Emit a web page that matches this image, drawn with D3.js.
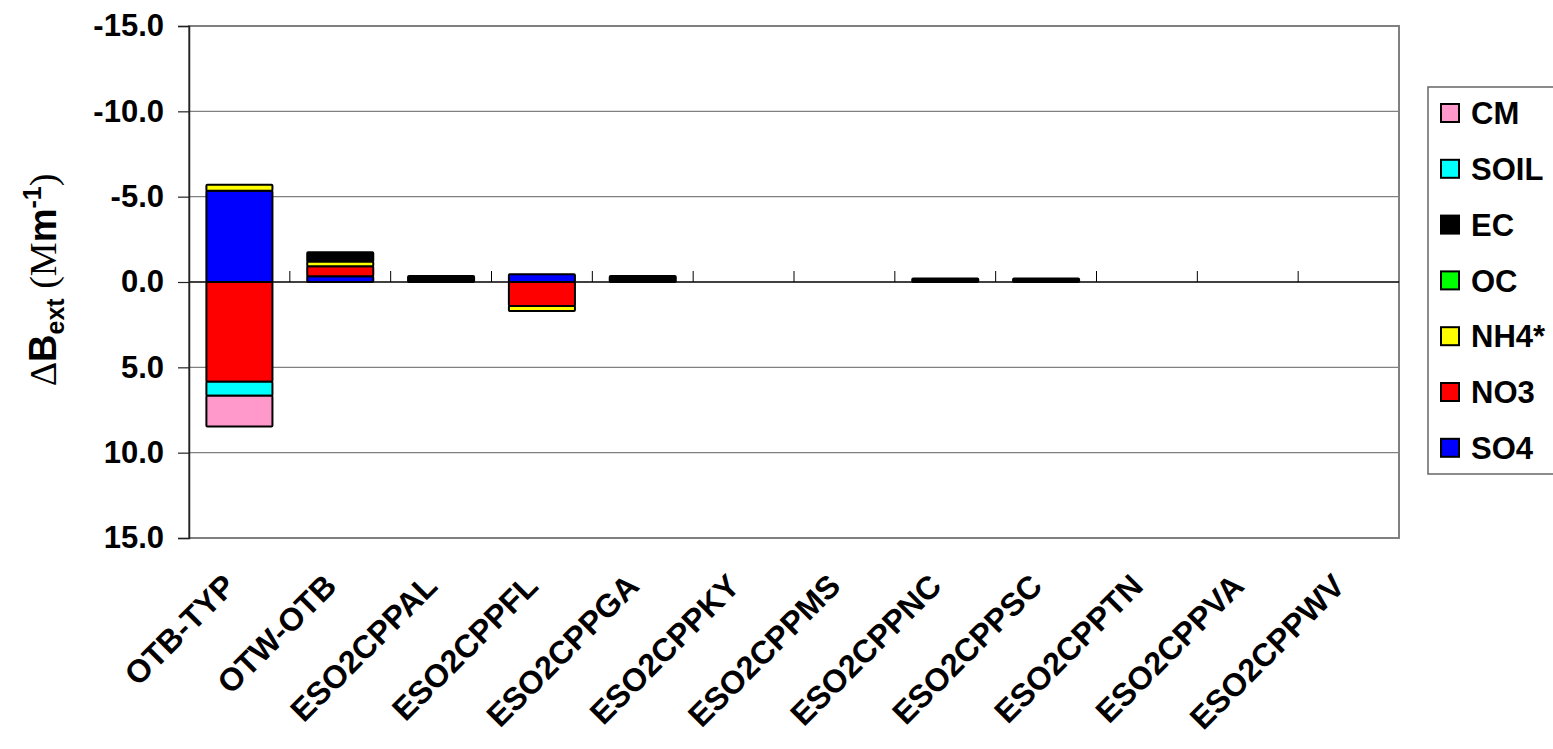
<!DOCTYPE html>
<html><head><meta charset="utf-8">
<script src="https://cdn.jsdelivr.net/npm/d3@7"></script>
<style>body{margin:0;background:#fff;} svg{display:block;}</style>
</head><body>
<svg id="c" width="1553" height="749"></svg>
<script>
const categories = ["OTB-TYP","OTW-OTB","ESO2CPPAL","ESO2CPPFL","ESO2CPPGA","ESO2CPPKY","ESO2CPPMS","ESO2CPPNC","ESO2CPPSC","ESO2CPPTN","ESO2CPPVA","ESO2CPPWV"];
const SO4  = [-5.35, -0.33, 0, -0.45, 0, 0, 0, 0, 0, 0, 0, 0];
const NO3  = [ 5.85, -0.6,  0,  1.4,  0, 0, 0, 0, 0, 0, 0, 0];
const NH4  = [-0.35, -0.27, 0,  0.3,  0, 0, 0, 0, 0, 0, 0, 0];
const OC   = [0, 0, 0, 0, 0, 0, 0, 0, 0, 0, 0, 0];
const EC   = [0, -0.55, -0.35, 0, -0.35, 0, 0, -0.2, -0.2, 0, 0, 0];
const SOIL = [0.82, 0, 0, 0, 0, 0, 0, 0, 0, 0, 0, 0];
const CM   = [1.8, 0, 0, 0, 0, 0, 0, 0, 0, 0, 0, 0];
const seriesNames = ["SO4","NO3","NH4*","OC","EC","SOIL","CM"];
const seriesValues = [SO4, NO3, NH4, OC, EC, SOIL, CM];
const seriesColors = ["#0000FF","#FF0000","#FFFF00","#00FF00","#000000","#00FFFF","#FF99CC"];
const yTicks = [-15, -10, -5, 0, 5, 10, 15];

const svg = d3.select("#c");
const L = 189, R = 1399, T = 26, B = 538;
const x = d3.scaleBand().domain(categories).range([L, R]).paddingInner(0.345).paddingOuter(0.1725);
const xb = d3.scaleBand().domain(categories).range([L, R]);
const y = d3.scaleLinear().domain([-15, 15]).range([T, B]);

const table = categories.map((c, i) => {
  const o = {cat: c};
  seriesNames.forEach((s, k) => o[s] = seriesValues[k][i]);
  return o;
});
const stack = d3.stack().keys(seriesNames).offset(d3.stackOffsetDiverging)(table);

// gridlines
svg.append("g").selectAll("line").data(yTicks.filter(t => t !== 0 && t !== -15 && t !== 15)).join("line")
  .attr("x1", L).attr("x2", R).attr("y1", d => y(d)).attr("y2", d => y(d))
  .attr("stroke", "#808080").attr("stroke-width", 1.2);
// plot border
svg.append("rect").attr("x", L).attr("y", T).attr("width", R - L).attr("height", B - T)
  .attr("fill", "none").attr("stroke", "#808080").attr("stroke-width", 2);

// bars
const gBars = svg.append("g");
stack.forEach((layer, k) => {
  gBars.append("g").selectAll("rect").data(layer.filter(d => d[1] - d[0] !== 0)).join("rect")
    .attr("x", d => x(d.data.cat))
    .attr("width", x.bandwidth())
    .attr("y", d => Math.min(y(d[0]), y(d[1])))
    .attr("height", d => Math.abs(y(d[1]) - y(d[0])))
    .attr("fill", seriesColors[k])
    .attr("stroke", "#000").attr("stroke-width", 2).attr("rx", 1);
});

// zero line with category ticks
svg.append("line").attr("x1", L).attr("x2", R).attr("y1", y(0)).attr("y2", y(0))
  .attr("stroke", "#000").attr("stroke-width", 1.5);
svg.append("g").selectAll("line").data(categories.slice(1)).join("line")
  .attr("x1", d => xb(d)).attr("x2", d => xb(d))
  .attr("y1", y(0)).attr("y2", y(0) - 11)
  .attr("stroke", "#000").attr("stroke-width", 1);

// y axis
const yAxis = d3.axisLeft(y).tickValues(yTicks).tickSize(11).tickPadding(14).tickFormat(d => d.toFixed(1));
const ga = svg.append("g").attr("transform", `translate(${L},0)`).call(yAxis);
ga.select(".domain").attr("stroke", "#222").attr("stroke-width", 1.5);
ga.selectAll(".tick line").attr("stroke", "#222").attr("stroke-width", 1.2);
ga.selectAll(".tick text").attr("font-family", "Arial, 'Liberation Sans', sans-serif")
  .attr("font-weight", "bold").attr("font-size", 31).attr("fill", "#000");

// x labels
const xAxis = d3.axisBottom(xb).tickSize(0).tickPadding(0);
const gx = svg.append("g").attr("transform", `translate(0,${B})`).call(xAxis);
gx.select(".domain").remove();
gx.selectAll(".tick text")
  .attr("font-family", "Arial, 'Liberation Sans', sans-serif")
  .attr("font-weight", "bold").attr("font-size", 32).attr("fill", "#000")
  .attr("text-anchor", "end").attr("dy", null).attr("y", null)
  .attr("transform", "translate(-2,50) rotate(-45)");

// y title
const yt = svg.append("text").attr("transform", `translate(56,${y(0) - 2}) rotate(-90)`)
  .attr("text-anchor", "middle").attr("font-family", "Arial, 'Liberation Sans', sans-serif")
  .attr("font-weight", "bold").attr("font-size", 38).attr("fill", "#000");
yt.append("tspan").attr("font-family", "'Liberation Serif', serif").attr("font-weight", "normal").text("Δ");
yt.append("tspan").text("B");
yt.append("tspan").attr("font-size", 25).attr("dy", 8).text("ext");
yt.append("tspan").attr("dy", -8).attr("font-family", "'Liberation Serif', serif").attr("font-weight", "normal").text(" (");
yt.append("tspan").attr("font-family", "'Liberation Serif', serif").attr("font-weight", "normal").text("M");
yt.append("tspan").text("m");
yt.append("tspan").attr("font-size", 25).attr("dy", -15).text("-1");
yt.append("tspan").attr("dy", 15).attr("font-family", "'Liberation Serif', serif").attr("font-weight", "normal").text(")");

// legend
const legOrder = ["CM","SOIL","EC","OC","NH4*","NO3","SO4"];
const lg = svg.append("g");
lg.append("rect").attr("x", 1428).attr("y", 87).attr("width", 150).attr("height", 387)
  .attr("fill", "#fff").attr("stroke", "#666").attr("stroke-width", 1.5);
const li = lg.selectAll("g.it").data(legOrder).join("g").attr("class", "it")
  .attr("transform", (d, i) => `translate(1441,${113 + i * 55.8})`);
li.append("rect").attr("x", 0).attr("y", -9).attr("width", 18).attr("height", 18)
  .attr("fill", d => seriesColors[seriesNames.indexOf(d)]).attr("stroke", "#000").attr("stroke-width", 2);
li.append("text").attr("x", 30).attr("dy", "0.36em")
  .attr("font-family", "Arial, 'Liberation Sans', sans-serif").attr("font-weight", "bold")
  .attr("font-size", 31).attr("fill", "#000").text(d => d);
</script>
</body></html>
